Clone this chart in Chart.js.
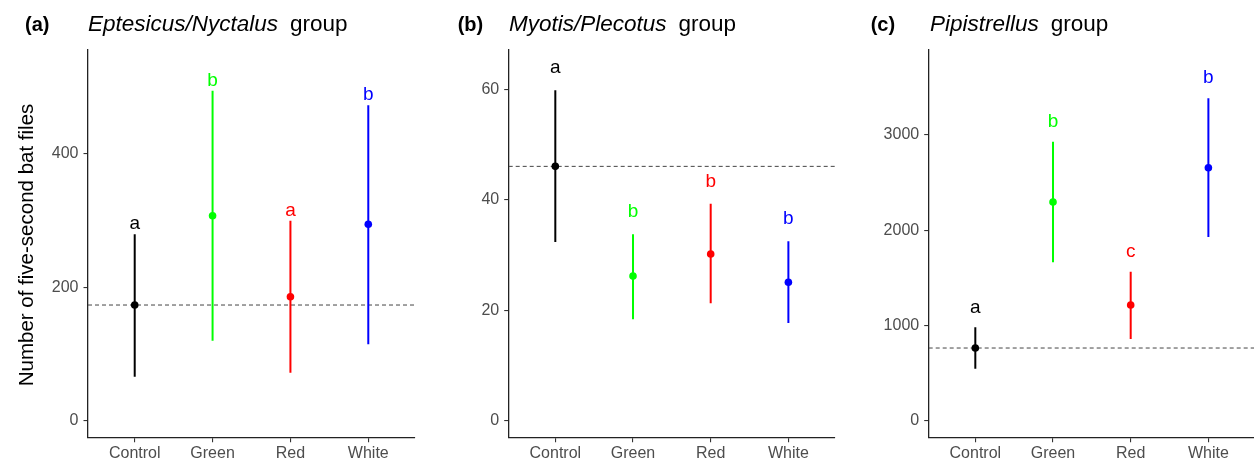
<!DOCTYPE html>
<html>
<head>
<meta charset="utf-8">
<script src="https://cdn.jsdelivr.net/npm/chart.js@4.4.1/dist/chart.umd.min.js"></script>
<style>
	html, body { margin: 0; padding: 0; background: #fff; overflow: hidden; width: 1254px; height: 462px; }
	canvas { position: absolute; top: 0; }
</style>
</head>
<body>
<canvas id="panel-a" width="419" height="462" style="left:0px"></canvas>
<canvas id="panel-b" width="419" height="462" style="left:420px"></canvas>
<canvas id="panel-c" width="419" height="462" style="left:840px"></canvas>
<script>
/* global Chart */
var groups = [ 'Control', 'Green', 'Red', 'White' ];
var colours = [ '#000000', '#00FF00', '#FF0000', '#0000FF' ];

// (a) Eptesicus/Nyctalus
var eptMean = [ 173.5, 307.5, 186, 294.6 ];
var eptLower = [ 66, 120, 72, 114.6 ];
var eptUpper = [ 279.6, 495, 300, 473 ];
var eptLetters = [ 'a', 'b', 'a', 'b' ];
var eptLetterY = [ 287, 502, 307, 481 ];
var eptTicks = [ 0, 200, 400 ];

// (b) Myotis/Plecotus
var myoMean = [ 46.1, 26.2, 30.2, 25.1 ];
var myoLower = [ 32.4, 18.4, 21.3, 17.7 ];
var myoUpper = [ 59.9, 33.8, 39.3, 32.5 ];
var myoLetters = [ 'a', 'b', 'b', 'b' ];
var myoLetterY = [ 63.0, 37.0, 42.3, 35.6 ];
var myoTicks = [ 0, 20, 40, 60 ];

// (c) Pipistrellus
var pipMean = [ 763, 2295, 1214, 2655 ];
var pipLower = [ 546, 1662, 857, 1928 ];
var pipUpper = [ 980, 2928, 1563, 3383 ];
var pipLetters = [ 'a', 'b', 'c', 'b' ];
var pipLetterY = [ 1127, 3085, 1715, 3540 ];
var pipTicks = [ 0, 1000, 2000, 3000 ];

var FONT = '"Liberation Sans", Arial, sans-serif';

var panelText = {
	id: 'panelText',
	afterDraw: function ( chart, args, opts ) {
		var ctx = chart.ctx;
		ctx.save();
		ctx.textBaseline = 'alphabetic';
		ctx.textAlign = 'left';
		ctx.fillStyle = '#000';
		ctx.font = 'bold 20px ' + FONT;
		ctx.fillText( opts.tag, opts.tagX, 31 );
		ctx.font = 'italic 22.5px ' + FONT;
		ctx.fillText( opts.title, opts.titleX, 31 );
		var w = ctx.measureText( opts.title ).width;
		ctx.font = '22.5px ' + FONT;
		ctx.fillText( 'group', opts.titleX + w + 12, 31 );

		if ( opts.yTitle ) {
			ctx.save();
			ctx.translate( 32.5, 245 );
			ctx.rotate( -Math.PI / 2 );
			ctx.textAlign = 'center';
			ctx.font = '20.5px ' + FONT;
			ctx.fillText( opts.yTitle, 0, 0 );
			ctx.restore();
		}

		// significance letters
		var x = chart.scales.x, y = chart.scales.y;
		ctx.font = '19px ' + FONT;
		ctx.textAlign = 'center';
		opts.letters.forEach( function ( l, i ) {
			ctx.fillStyle = colours[ i ];
			ctx.fillText( l, x.getPixelForValue( i + 1 ), y.getPixelForValue( opts.letterY[ i ] ) );
		} );
		ctx.restore();
	}
};

function makePanel( id, p ) {
	var datasets = [];
	datasets.push( {
		type: 'scatter',
		data: p.mean.map( function ( v, i ) { return { x: i + 1, y: v }; } ),
		pointRadius: 3.8,
		pointBackgroundColor: colours,
		pointBorderWidth: 0,
		pointBorderColor: colours,
	} );
	p.mean.forEach( function ( v, i ) {
		datasets.push( {
			type: 'line',
			data: [ { x: i + 1, y: p.lower[ i ] }, { x: i + 1, y: p.upper[ i ] } ],
			borderColor: colours[ i ],
			borderWidth: 2,
			pointRadius: 0,
		} );
	} );
	// control mean reference line
	datasets.push( {
		type: 'line',
		data: [ { x: 0.4, y: p.mean[ 0 ] }, { x: 4.6, y: p.mean[ 0 ] } ],
		borderColor: '#444',
		borderWidth: 1,
		borderDash: [ 4, 3 ],
		pointRadius: 0,
	} );

	new Chart( document.getElementById( id ), {
		type: 'scatter',
		data: { datasets: datasets },
		options: {
			responsive: false,
			animation: false,
			events: [],
			layout: { padding: { top: 50, left: 0, right: 0, bottom: 0 } },
			plugins: {
				legend: { display: false },
				tooltip: { enabled: false },
				panelText: {
					tag: p.tag, tagX: p.tagX, title: p.title, titleX: p.titleX,
					yTitle: p.yTitle, letters: p.letters, letterY: p.letterY
				},
			},
			scales: {
				x: {
					type: 'linear',
					min: 0.4,
					max: 4.6,
					afterBuildTicks: function ( s ) {
						s.ticks = groups.map( function ( g, i ) { return { value: i + 1 }; } );
					},
					afterFit: function ( s ) { s.height = 24.3; },
					ticks: {
						padding: 2,
						color: '#4D4D4D',
						font: { family: FONT, size: 16 },
						autoSkip: false,
						maxRotation: 0,
						callback: function ( v ) { return groups[ v - 1 ]; },
					},
					grid: { drawOnChartArea: false, color: '#333', tickLength: 4.5, lineWidth: 1.1 },
					border: { color: '#222', width: 1.3 },
				},
				y: {
					type: 'linear',
					min: p.range[ 0 ],
					max: p.range[ 1 ],
					afterBuildTicks: function ( s ) {
						s.ticks = p.ticks.map( function ( v ) { return { value: v }; } );
					},
					afterFit: function ( s ) { s.width = p.yWidth; },
					ticks: {
						padding: 5,
						color: '#4D4D4D',
						font: { family: FONT, size: 16 },
						callback: function ( v ) { return String( v ); },
					},
					grid: { drawOnChartArea: false, color: '#333', tickLength: 4.5, lineWidth: 1.1 },
					border: { color: '#222', width: 1.3 },
				},
			},
		},
		plugins: [ panelText ],
	} );
}

makePanel( 'panel-a', {
	tag: '(a)', tagX: 25, title: 'Eptesicus/Nyctalus', titleX: 88,
	yTitle: 'Number of five-second bat files',
	mean: eptMean, lower: eptLower, upper: eptUpper,
	letters: eptLetters, letterY: eptLetterY,
	ticks: eptTicks, range: [ -25.5, 556 ], yWidth: 88
} );
makePanel( 'panel-b', {
	tag: '(b)', tagX: 37.7, title: 'Myotis/Plecotus', titleX: 89,
	mean: myoMean, lower: myoLower, upper: myoUpper,
	letters: myoLetters, letterY: myoLetterY,
	ticks: myoTicks, range: [ -3.1, 67.2 ], yWidth: 88.7
} );
makePanel( 'panel-c', {
	tag: '(c)', tagX: 30.7, title: 'Pipistrellus', titleX: 90,
	mean: pipMean, lower: pipLower, upper: pipUpper,
	letters: pipLetters, letterY: pipLetterY,
	ticks: pipTicks, range: [ -178, 3890 ], yWidth: 88.7
} );
</script>
</body>
</html>
